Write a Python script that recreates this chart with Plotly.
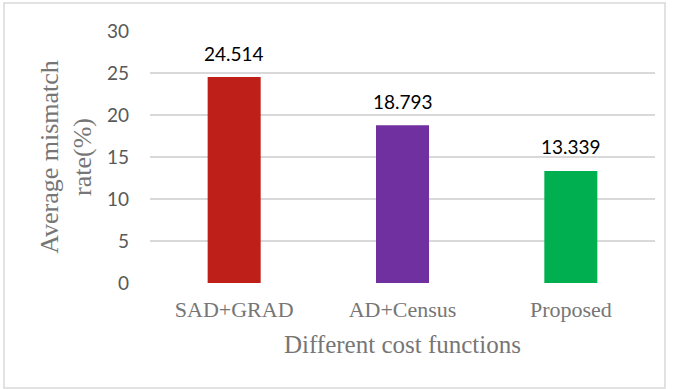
import plotly.graph_objects as go

# Average mismatch rate for each matching cost function
methods = ["SAD+GRAD", "AD+Census", "Proposed"]
mismatch_rate = [24.514, 18.793, 13.339]
bar_colors = ["#BE2019", "#7030A0", "#00B050"]
y_ticks = [0, 5, 10, 15, 20, 25, 30]

SERIF = "Liberation Serif, Times New Roman, serif"
SANS = "Lato, Carlito, Calibri, sans-serif"
GREY = "#767676"

fig = go.Figure(
    go.Bar(
        x=methods,
        y=mismatch_rate,
        marker=dict(color=bar_colors, line=dict(width=0)),
        width=0.315,
        hoverinfo="x+y",
    )
)

# value labels above each bar
for m, v in zip(methods, mismatch_rate):
    fig.add_annotation(
        x=m, y=v, text=f"{v:.3f}", showarrow=False,
        yanchor="middle", yshift=24,
        font=dict(family=SANS, size=19, color="#000000"),
    )

# thin frame around the whole chart area
fig.add_shape(
    type="rect", xref="paper", yref="paper",
    x0=(4 - 150) / 505, x1=(665 - 150) / 505,
    y0=(283 - 388) / 252, y1=(283 - 3) / 252,
    line=dict(color="#D9D9D9", width=1.5), fillcolor="rgba(0,0,0,0)",
    layer="below",
)

fig.update_layout(
    width=673, height=389,
    margin=dict(l=150, r=18, t=31, b=106),
    paper_bgcolor="white", plot_bgcolor="white",
    showlegend=False,
    bargap=0.685,
    xaxis=dict(
        showgrid=False, showline=False, zeroline=False, ticks="",
        tickfont=dict(family=SERIF, size=22, color=GREY),
        ticklabelstandoff=11,
        title=dict(text="Different cost functions", standoff=14,
                   font=dict(family=SERIF, size=25, color=GREY)),
    ),
    yaxis=dict(
        range=[0, 30], tickvals=y_ticks,
        showgrid=True, gridcolor="#D9D9D9", gridwidth=1.5,
        zeroline=False, showline=False, ticks="",
        tickfont=dict(family=SANS, size=19, color="#595959"),
        ticklabelstandoff=20,
        title=dict(text="Average mismatch<br>rate(%)", standoff=7,
                   font=dict(family=SERIF, size=26, color=GREY)),
    ),
)

fig.write_html("out.html")
